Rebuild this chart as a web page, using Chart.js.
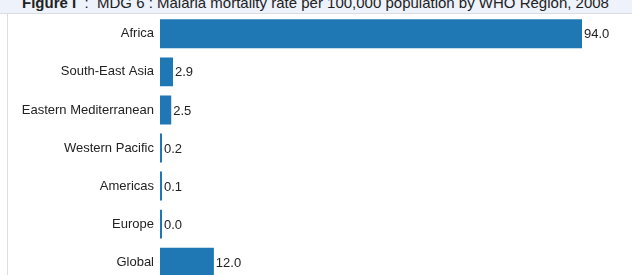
<!DOCTYPE html>
<html>
<head>
<meta charset="utf-8">
<script src="https://cdn.jsdelivr.net/npm/chart.js@4"></script>
<style>
  html, body { margin: 0; padding: 0; width: 632px; height: 275px; overflow: hidden; background: #ffffff; }
  #band { position: absolute; left: 0; top: 0; width: 632px; height: 13px; background: #edf2fb; border-bottom: 1px solid #d9dde3; overflow: hidden; }
  #title { position: absolute; left: 22px; top: -5px; font-family: "Liberation Sans", Arial, sans-serif; font-size: 15px; color: #222; white-space: nowrap; line-height: 16px; }
  #panel { position: absolute; left: 7px; top: 14px; width: 625px; height: 280px; border-left: 1px solid #d9dde3; background: #fff; }
  #wrap { position: absolute; left: 8px; top: 1px; width: 624px; height: 294px; z-index: 2; }
</style>
</head>
<body>
<div id="band"><div id="title"><b>Figure I</b>&nbsp; : &nbsp;MDG 6 : Malaria mortality rate per 100,000 population by WHO Region, 2008</div></div>
<div id="panel"></div>
<div id="wrap"><canvas id="c"></canvas></div>
<script>
const categories = ["Africa", "South-East Asia", "Eastern Mediterranean", "Western Pacific", "Americas", "Europe", "Global"];
const mortalityRates = [94.0, 2.9, 2.5, 0.2, 0.1, 0.0, 12.0];
const valueLabels = ["94.0", "2.9", "2.5", "0.2", "0.1", "0.0", "12.0"];

const valueLabelPlugin = {
  id: 'valueLabels',
  afterDatasetsDraw(chart) {
    const ctx = chart.ctx;
    const meta = chart.getDatasetMeta(0);
    ctx.save();
    ctx.font = '13px "Liberation Sans", Arial, sans-serif';
    ctx.fillStyle = '#222';
    ctx.textBaseline = 'middle';
    ctx.textAlign = 'left';
    meta.data.forEach((bar, i) => {
      const x = Math.max(bar.x, bar.base + 2);
      ctx.fillText(valueLabels[i], x + 2, bar.y + 1);
    });
    ctx.restore();
  }
};

new Chart(document.getElementById('c'), {
  type: 'bar',
  data: {
    labels: categories,
    datasets: [{
      data: mortalityRates,
      backgroundColor: '#1f77b4',
      borderWidth: 0,
      barPercentage: 0.76,
      categoryPercentage: 1.0,
      minBarLength: 2
    }]
  },
  options: {
    indexAxis: 'y',
    responsive: true,
    maintainAspectRatio: false,
    animation: false,
    layout: { padding: { left: 0, right: 50, top: 0, bottom: 0 } },
    plugins: { legend: { display: false }, tooltip: { enabled: false }, title: { display: false } },
    scales: {
      x: { display: false, min: 0, max: 94 },
      y: {
        grid: { display: false, drawTicks: false },
        border: { display: false },
        ticks: {
          color: '#222',
          padding: 6,
          font: { family: '"Liberation Sans", Arial, sans-serif', size: 13 }
        },
        afterFit(scale) { scale.width = 152; }
      }
    }
  },
  plugins: [valueLabelPlugin]
});
</script>
</body>
</html>
